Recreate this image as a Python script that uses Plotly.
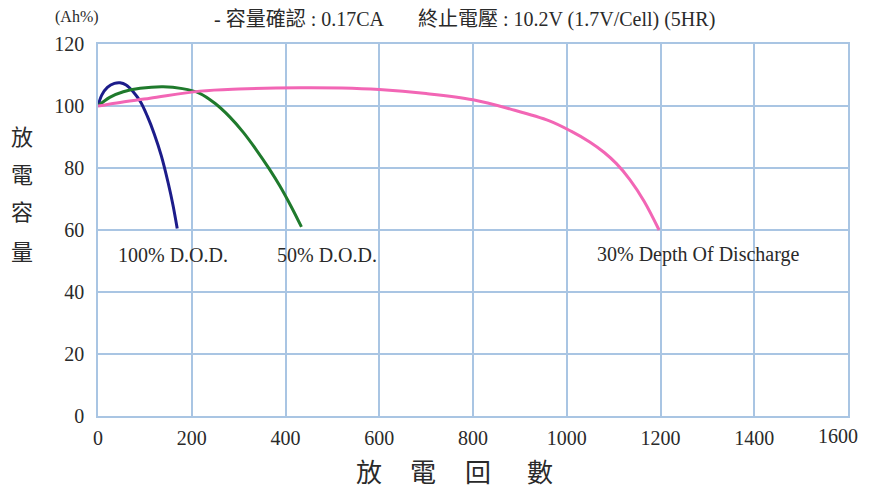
import plotly.graph_objects as go

# cycle counts (x) and capacity % (y)
dod100_x = [0, 8, 20, 35, 47, 60, 75, 90, 105, 120, 135, 150, 160, 169]
dod100_y = [100, 103.5, 106, 107.3, 107.5, 106.8, 104.6, 101.5, 96.8, 91, 84, 75, 68, 60.5]

dod50_x = [0, 25, 54, 90, 139, 180, 217, 250, 281, 310, 338, 365, 388, 412, 434]
dod50_y = [100, 102.8, 104.6, 105.7, 106.2, 105.6, 104.1, 100.8, 96.5, 91.5, 85.8, 79.8, 74.2, 67.6, 61]

dod30_x = [0, 40, 111, 217, 300, 431, 520, 600, 700, 800, 880, 963, 1010, 1049, 1080, 1106, 1135, 1165, 1197]
dod30_y = [100, 101, 102.5, 104.8, 105.5, 105.9, 105.8, 105.3, 104, 102, 99, 95.2, 91.8, 88.4, 85.0, 81.4, 76.2, 69.3, 60]

x_ticks = [0, 200, 400, 600, 800, 1000, 1200, 1400, 1600]
y_ticks = [0, 20, 40, 60, 80, 100, 120]

labels = ["100% D.O.D.", "50% D.O.D.", "30% Depth Of Discharge"]
label_x = [159, 488, 1280]

y_title = ["放", "電", "容", "量"]
y_title_pos = [0.755, 0.653, 0.554, 0.446]
x_title = ["放", "電", "回", "數"]
x_title_pos = [0.361, 0.433, 0.507, 0.589]

SERIF = "Liberation Serif, Times New Roman, serif"
MIXED = "Liberation Serif, Noto Sans CJK TC"
CJK = "Noto Sans CJK TC"
GRID = "#a9c5e3"
TXT = "#2a2a2a"

fig = go.Figure()
for xs, ys, col in [
    (dod100_x, dod100_y, "#1c1c8a"),
    (dod50_x, dod50_y, "#1f7a2c"),
    (dod30_x, dod30_y, "#f266b5"),
]:
    fig.add_trace(go.Scatter(x=xs, y=ys, mode="lines", line=dict(color=col, width=3, shape="spline"),
                             showlegend=False, hoverinfo="skip"))

for txt, lx in zip(labels, label_x):
    fig.add_annotation(x=lx, y=52, text=txt, showarrow=False, xref="x", yref="y",
                       font=dict(family=SERIF, size=20, color=TXT))

fig.add_annotation(x=0.0, y=1.0, xref="paper", yref="paper", xanchor="center", yanchor="middle",
                   xshift=-21, yshift=27, text="(Ah%)", showarrow=False,
                   font=dict(family=SERIF, size=16, color=TXT))
fig.add_annotation(x=0.489, y=1.0, xref="paper", yref="paper", xanchor="center", yanchor="middle",
                   yshift=25, text="- 容量確認 : 0.17CA       終止電壓 : 10.2V (1.7V/Cell) (5HR)",
                   showarrow=False, font=dict(family=MIXED, size=20, color=TXT))

# vertical y title, one character per annotation
for ch, py in zip(y_title, y_title_pos):
    fig.add_annotation(x=0.0, y=py, xref="paper", yref="paper", xanchor="center", yanchor="middle",
                       xshift=-76, text=ch, showarrow=False, font=dict(family=CJK, size=22, color=TXT))
for ch, px in zip(x_title, x_title_pos):
    fig.add_annotation(x=px, y=0.0, xref="paper", yref="paper", xanchor="center", yanchor="middle",
                       yshift=-54, text=ch, showarrow=False, font=dict(family=CJK, size=26, color=TXT))

# last tick label would be clipped at the right edge, so draw it right-anchored instead
tick_text = [str(t) for t in x_ticks[:-1]] + [""]
fig.add_annotation(x=x_ticks[-1], y=0, xref="x", yref="paper", xanchor="right", yanchor="top",
                   xshift=12, yshift=-7, text=str(x_ticks[-1]), showarrow=False,
                   font=dict(family=SERIF, size=20, color=TXT))

# body has an 8px margin in the page, so size the figure to fit inside the window
fig.update_layout(
    width=861, height=482,
    margin=dict(l=90, r=21, t=36, b=74, autoexpand=False),
    paper_bgcolor="white", plot_bgcolor="white",
    xaxis=dict(range=[0, 1600], tickvals=x_ticks, ticktext=tick_text, showgrid=True, gridcolor=GRID,
               gridwidth=1.5, zeroline=False, showline=True, linecolor=GRID, linewidth=1.5, mirror=True,
               tickfont=dict(family=SERIF, size=20, color=TXT), ticks="", ticklabelstandoff=3),
    yaxis=dict(range=[0, 120], tickvals=y_ticks, showgrid=True, gridcolor=GRID, gridwidth=1.5,
               zeroline=False, showline=True, linecolor=GRID, linewidth=1.5, mirror=True,
               tickfont=dict(family=SERIF, size=20, color=TXT), ticks="", ticklabelstandoff=8),
)

fig.write_html("out.html")
